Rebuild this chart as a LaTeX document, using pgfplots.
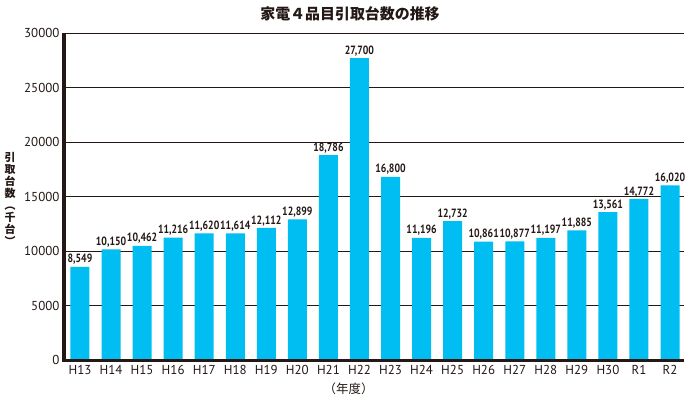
\documentclass[border=0pt]{standalone}
\usepackage{fontspec}
\usepackage{pgfplots}
\pgfplotsset{compat=1.18}
\setmainfont{PT Sans}
\newfontfamily\jp{Noto Sans CJK JP}
\newfontfamily\narrowbold[FakeStretch=0.82]{PT Sans Bold}
\definecolor{barc}{RGB}{0,189,242}
\definecolor{ink}{RGB}{35,24,21}
\begin{document}
\begin{tikzpicture}
\path (0,0) rectangle (690bp,397bp);
\begin{axis}[
  at={(64bp,37bp)}, anchor=south west,
  scale only axis, width=620bp, height=327bp,
  xmin=-0.515, xmax=19.45, ymin=0, ymax=30000,
  axis line style={draw=none},
  ybar, bar width=19bp,
  xtick={0,...,19},
  xticklabels={H13,H14,H15,H16,H17,H18,H19,H20,H21,H22,H23,H24,H25,H26,H27,H28,H29,H30,R1,R2},
  ytick={0,5000,...,30000},
  scaled y ticks=false,
  major tick length=0pt,
  ymajorgrids, grid style={ink, line width=0.8bp},
  tick label style={font=\fontsize{13}{15}\selectfont, text=ink},
  /pgf/number format/assume math mode=true,
  y tick label style={/pgf/number format/1000 sep={}, /pgf/number format/fixed, xshift=-1bp},
  x tick label style={yshift=-2bp},
  nodes near coords,
  point meta=explicit,
  every node near coord/.append style={font=\narrowbold\fontsize{12}{13}\selectfont, text=ink, inner sep=2bp,
     /pgf/number format/fixed, /pgf/number format/precision=0, /pgf/number format/1000 sep={,}},
  clip=false,
]
\addplot[fill=barc, draw=none] table[x=x, y=y, meta=y] {
x y
0 8549
1 10150
2 10462
3 11216
4 11620
5 11614
6 12112
7 12899
8 18786
9 27700
10 16800
11 11196
12 12732
13 10861
14 10877
15 11197
16 11885
17 13561
18 14772
19 16020
};
\draw[ink, line width=3bp] (axis cs:-0.515,30000) -- (axis cs:-0.515,0) -- (axis cs:19.45,0);
\node[font=\jp\fontsize{12.5}{14}\selectfont, text=ink] at (axis cs:8.65,0) [yshift=-29bp] {（年度）};
\end{axis}
\node[font=\jp\bfseries\fontsize{11}{12}\selectfont, text=ink, align=center, inner sep=0pt] at (10bp,198bp) {引\\取\\台\\数\\︵\\千\\台\\︶};
\node[font=\jp\bfseries\fontsize{15}{17}\selectfont, text=ink] at (350bp,383bp) {家電４品目引取台数の推移};
\end{tikzpicture}
\end{document}
